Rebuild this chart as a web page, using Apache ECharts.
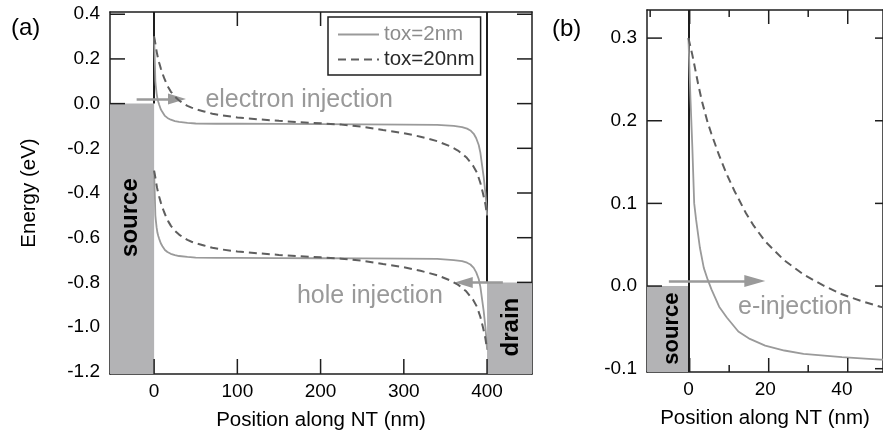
<!DOCTYPE html>
<html>
<head>
<meta charset="utf-8">
<script src="https://cdn.jsdelivr.net/npm/echarts@6/dist/echarts.min.js"></script>
<style>
  html, body { margin: 0; padding: 0; background: #fff; }
  #main { width: 883px; height: 439px; }
</style>
</head>
<body>
<div id="main"></div>
<script>
// 位置 (nm) 与能带 (eV)，tox = 2nm
var xs2 = [0, 0.5, 1, 1.5, 2, 3, 4, 5, 6, 8, 10, 13, 16, 20, 25, 30, 40, 50, 75, 100, 150, 200, 250, 300, 340, 360, 370, 376, 380, 384, 387, 390, 392, 394, 396, 398, 399, 400];
var ec2 = [0.30, 0.23, 0.17, 0.10, 0.08, 0.046, 0.022, 0.008, -0.004, -0.025, -0.038, -0.055, -0.064, -0.072, -0.078, -0.082, -0.086, -0.089, -0.09, -0.09, -0.091, -0.092, -0.093, -0.094, -0.095, -0.1, -0.105, -0.112, -0.12, -0.135, -0.155, -0.185, -0.22, -0.275, -0.33, -0.40, -0.445, -0.5];
var ev2 = [-0.30, -0.37, -0.43, -0.50, -0.52, -0.554, -0.578, -0.592, -0.604, -0.625, -0.638, -0.655, -0.664, -0.672, -0.678, -0.682, -0.686, -0.689, -0.69, -0.69, -0.691, -0.692, -0.693, -0.694, -0.695, -0.70, -0.705, -0.712, -0.72, -0.735, -0.755, -0.785, -0.82, -0.875, -0.93, -1.00, -1.045, -1.10];

// tox = 20nm
var xs20 = [0, 0.5, 1, 1.7, 2.5, 3.5, 5, 6, 8, 10, 12, 15, 17, 20, 25, 30, 35, 40, 45, 50, 60, 70, 80, 100, 125, 150, 175, 200, 225, 250, 275, 300, 320, 340, 355, 365, 375, 383, 388, 392, 395, 398, 400];
var ec20 = [0.30, 0.29, 0.28, 0.264, 0.245, 0.224, 0.198, 0.184, 0.158, 0.135, 0.115, 0.088, 0.073, 0.054, 0.031, 0.014, 0.001, -0.010, -0.018, -0.025, -0.035, -0.045, -0.052, -0.062, -0.070, -0.077, -0.083, -0.088, -0.094, -0.103, -0.118, -0.132, -0.148, -0.168, -0.19, -0.21, -0.24, -0.277, -0.31, -0.355, -0.40, -0.45, -0.50];
var ev20 = [-0.30, -0.31, -0.32, -0.336, -0.355, -0.376, -0.402, -0.416, -0.442, -0.465, -0.485, -0.512, -0.527, -0.546, -0.569, -0.586, -0.599, -0.610, -0.618, -0.625, -0.635, -0.645, -0.652, -0.662, -0.670, -0.677, -0.683, -0.688, -0.694, -0.703, -0.718, -0.732, -0.748, -0.768, -0.79, -0.81, -0.84, -0.877, -0.91, -0.955, -1.00, -1.05, -1.10];

// 刻度标签
var xTicksA = [0, 100, 200, 300, 400];
var yTicksA = [-1.2, -1.0, -0.8, -0.6, -0.4, -0.2, 0.0, 0.2, 0.4];
var xTicksB = [0, 20, 40];
var yTicksB = [-0.1, 0.0, 0.1, 0.2, 0.3];
// 可见的刻度线 (被源/漏区块和图例挡住的不画)
var xTopTicksA = [100, 200];
var yLeftTicksA = [0.0, 0.2, 0.4];
var yRightTicksA = [-0.8, -0.6, -0.4, -0.2, 0.0, 0.2, 0.4];
var xMinorB = [10, 30];
var xTopMinorB = [-10, 10, 30];
var yLeftTicksB = [0.0, 0.1, 0.2, 0.3];

// 源/漏费米能级
var sourceLevel = 0.0;
var drainLevel = -0.8;
var channelEnd = 400;

var rangeA = { xmin: -53, xmax: 454, ymin: -1.21, ymax: 0.41 };
var rangeB = { xmin: -10.8, xmax: 50.7, ymin: -0.104, ymax: 0.334 };
var gridA = { left: 110, top: 12, width: 422, height: 362 };
var gridB = { left: 647, top: 10, width: 243, height: 362 };

var FONT = '"Liberation Sans", Arial, Helvetica, sans-serif';
var SOLID = '#9a9a9a';
var DASH = '#5e5e5e';
var BOX = '#b3b3b5';
var INK = '#1e1e1e';

function pairs(xs, ys) {
    return xs.map(function (x, i) { return [x, ys[i]]; });
}
function fmt1(v) { return v.toFixed(1); }

// 朝内的刻度线: 按网格的线性比例换成像素, 用 graphic 画
var tickId = 0;
function tickLines(values, side, len, g, r) {
    return values.map(function (v) {
        var px = g.left + (v - r.xmin) / (r.xmax - r.xmin) * g.width;
        var py = g.top + (r.ymax - v) / (r.ymax - r.ymin) * g.height;
        var bottom = g.top + g.height;
        var right = g.left + g.width;
        var shape;
        if (side === 'bottom') shape = { x1: px, y1: bottom, x2: px, y2: bottom - len };
        else if (side === 'top') shape = { x1: px, y1: g.top, x2: px, y2: g.top + len };
        else if (side === 'left') shape = { x1: g.left, y1: py, x2: g.left + len, y2: py };
        else shape = { x1: right, y1: py, x2: right - len, y2: py };
        tickId += 1;
        return {
            type: 'line', id: 'tick' + tickId, silent: true, z: 30,
            shape: shape, style: { stroke: INK, lineWidth: 1.5 }
        };
    });
}

function frameAxis(gi, pos, min, max, labels, fmt) {
    return {
        type: 'value', gridIndex: gi, position: pos, min: min, max: max,
        axisLine: { show: true, onZero: false, lineStyle: { color: INK, width: 1.5 } },
        axisTick: { show: false },
        axisLabel: labels ? {
            show: true, customValues: labels, margin: pos === 'bottom' ? 8 : 10,
            fontSize: 19, color: '#000', fontFamily: FONT, formatter: fmt
        } : { show: false },
        splitLine: { show: false }
    };
}

var chartDom = document.getElementById('main');
var myChart = echarts.init(chartDom);
var option;

var nameStyle = { fontSize: 20.5, color: '#000', fontFamily: FONT };

var xA = frameAxis(0, 'bottom', rangeA.xmin, rangeA.xmax, xTicksA);
xA.name = 'Position along NT (nm)';
xA.nameLocation = 'middle';
xA.nameGap = 36;
xA.nameTextStyle = nameStyle;

var yA = frameAxis(0, 'left', rangeA.ymin, rangeA.ymax, yTicksA, fmt1);
yA.name = 'Energy (eV)';
yA.nameLocation = 'middle';
yA.nameGap = 70;
yA.nameTextStyle = nameStyle;

var xB = frameAxis(1, 'bottom', rangeB.xmin, rangeB.xmax, xTicksB);
xB.name = 'Position along NT (nm)';
xB.nameLocation = 'middle';
xB.nameGap = 36;
xB.nameTextStyle = nameStyle;

var tickGraphics = [].concat(
    tickLines(xTicksA, 'bottom', 15, gridA, rangeA),
    tickLines(xTopTicksA, 'top', 14, gridA, rangeA),
    tickLines(yLeftTicksA, 'left', 15, gridA, rangeA),
    tickLines(yRightTicksA, 'right', 15, gridA, rangeA),
    tickLines(xTicksB, 'bottom', 14, gridB, rangeB),
    tickLines(xMinorB, 'bottom', 7, gridB, rangeB),
    tickLines(xTicksB, 'top', 14, gridB, rangeB),
    tickLines(xTopMinorB, 'top', 7, gridB, rangeB),
    tickLines(yLeftTicksB, 'left', 15, gridB, rangeB),
    tickLines(yTicksB, 'right', 15, gridB, rangeB)
);

var mainSeries = [
    // 源漏区块与文字 (a)
    {
        type: 'line', xAxisIndex: 0, yAxisIndex: 0, data: [], silent: true, z: 6,
        markArea: {
            silent: true,
            itemStyle: { color: BOX },
            data: [
                [{ coord: [rangeA.xmin, rangeA.ymin] }, { coord: [0, sourceLevel] }],
                [{ coord: [channelEnd, rangeA.ymin] }, { coord: [rangeA.xmax, drainLevel] }]
            ]
        },
        markPoint: {
            silent: true,
            symbol: 'circle',
            symbolSize: 1,
            itemStyle: { color: 'rgba(0,0,0,0)' },
            label: { show: true, formatter: '{b}', fontFamily: FONT },
            data: [
                { name: 'source', coord: [-29, -0.51], label: { position: 'inside', rotate: 90, fontSize: 24, fontWeight: 'bold', color: '#000' } },
                { name: 'drain', coord: [429, -1.0], label: { position: 'inside', rotate: 90, fontSize: 24, fontWeight: 'bold', color: '#000' } },
                { name: 'electron injection', coord: [61, 0.016], label: { position: 'right', distance: 0, fontSize: 25, color: '#999' } },
                { name: 'hole injection', coord: [171, -0.86], label: { position: 'right', distance: 0, fontSize: 25, color: '#999' } }
            ]
        }
    },
    {
        type: 'line', xAxisIndex: 0, yAxisIndex: 0, data: [], silent: true, z: 7,
        markLine: {
            silent: true,
            symbol: ['none', 'none'],
            label: { show: false },
            lineStyle: { color: INK, width: 2, type: 'solid' },
            data: [
                [{ coord: [0, rangeA.ymax] }, { coord: [0, sourceLevel] }],
                [{ coord: [channelEnd, rangeA.ymax] }, { coord: [channelEnd, drainLevel] }]
            ]
        }
    },
    {
        type: 'line', xAxisIndex: 0, yAxisIndex: 0, data: [], silent: true, z: 8,
        markLine: {
            silent: true,
            label: { show: false },
            lineStyle: { color: '#9a9a9a', width: 2.5, type: 'solid' },
            data: [
                [{ coord: [-21, 0.0205], symbol: 'none' }, { coord: [27.5, 0.0205], symbol: 'triangle', symbolSize: [11, 18] }],
                [{ coord: [419, -0.8], symbol: 'none' }, { coord: [372, -0.8], symbol: 'triangle', symbolSize: [11, 18] }]
            ]
        }
    },
    // 能带曲线 (a)
    {
        name: 'tox=2nm', type: 'line', xAxisIndex: 0, yAxisIndex: 0, symbol: 'none', z: 7,
        data: pairs(xs2, ec2), lineStyle: { color: SOLID, width: 1.8 }, itemStyle: { color: SOLID }
    },
    {
        name: 'tox=2nm', type: 'line', xAxisIndex: 0, yAxisIndex: 0, symbol: 'none', z: 7,
        data: pairs(xs2, ev2), lineStyle: { color: SOLID, width: 1.8 }, itemStyle: { color: SOLID }
    },
    {
        name: 'tox=20nm', type: 'line', xAxisIndex: 0, yAxisIndex: 0, symbol: 'none', z: 7,
        data: pairs(xs20, ec20), lineStyle: { color: DASH, width: 2, type: [8, 5] }, itemStyle: { color: DASH }
    },
    {
        name: 'tox=20nm', type: 'line', xAxisIndex: 0, yAxisIndex: 0, symbol: 'none', z: 7,
        data: pairs(xs20, ev20), lineStyle: { color: DASH, width: 2, type: [8, 5] }, itemStyle: { color: DASH }
    },
    // (b) 源区放大
    {
        type: 'line', xAxisIndex: 2, yAxisIndex: 2, data: [], silent: true, z: 6,
        markArea: {
            silent: true,
            itemStyle: { color: BOX },
            data: [
                [{ coord: [rangeB.xmin, rangeB.ymin] }, { coord: [0, sourceLevel] }]
            ]
        },
        markPoint: {
            silent: true,
            symbol: 'circle',
            symbolSize: 1,
            itemStyle: { color: 'rgba(0,0,0,0)' },
            label: { show: true, formatter: '{b}', fontFamily: FONT },
            data: [
                { name: 'source', coord: [-4.2, -0.0515], label: { position: 'inside', rotate: 90, fontSize: 22, fontWeight: 'bold', color: '#000' } },
                { name: 'e-injection', coord: [12.8, -0.025], label: { position: 'right', distance: 0, fontSize: 25, color: '#999' } }
            ]
        }
    },
    {
        type: 'line', xAxisIndex: 2, yAxisIndex: 2, data: [], silent: true, z: 7,
        markLine: {
            silent: true,
            symbol: ['none', 'none'],
            label: { show: false },
            lineStyle: { color: INK, width: 2, type: 'solid' },
            data: [
                [{ coord: [0, rangeB.ymax] }, { coord: [0, rangeB.ymin] }]
            ]
        }
    },
    {
        type: 'line', xAxisIndex: 2, yAxisIndex: 2, data: [], silent: true, z: 8,
        markLine: {
            silent: true,
            label: { show: false },
            lineStyle: { color: '#9a9a9a', width: 2.5, type: 'solid' },
            data: [
                [{ coord: [-5.1, 0.006], symbol: 'none' }, { coord: [17.3, 0.006], symbol: 'triangle', symbolSize: [12, 21] }]
            ]
        }
    },
    {
        name: 'tox=2nm', type: 'line', xAxisIndex: 2, yAxisIndex: 2, symbol: 'none', z: 7,
        data: pairs(xs2, ec2), lineStyle: { color: SOLID, width: 1.8 }, itemStyle: { color: SOLID }
    },
    {
        name: 'tox=20nm', type: 'line', xAxisIndex: 2, yAxisIndex: 2, symbol: 'none', z: 7,
        data: pairs(xs20, ec20), lineStyle: { color: DASH, width: 2, type: [8, 5] }, itemStyle: { color: DASH }
    }
];

option = {
    animation: false,
    backgroundColor: '#fff',
    textStyle: { fontFamily: FONT },
    grid: [gridA, gridB],
    legend: {
        data: [
            { name: 'tox=2nm', textStyle: { color: '#8c8c8c' } },
            { name: 'tox=20nm', textStyle: { color: '#2a2a2a' } }
        ],
        orient: 'vertical',
        left: 328,
        top: 17,
        z: 40,
        itemWidth: 41,
        itemHeight: 12,
        itemGap: 4,
        padding: [7, 6, 5, 9],
        itemStyle: { opacity: 0 },
        backgroundColor: '#fff',
        borderColor: INK,
        borderWidth: 1.5,
        textStyle: { fontSize: 20.5, fontFamily: FONT }
    },
    xAxis: [
        xA,
        frameAxis(0, 'top', rangeA.xmin, rangeA.xmax),
        xB,
        frameAxis(1, 'top', rangeB.xmin, rangeB.xmax)
    ],
    yAxis: [
        yA,
        frameAxis(0, 'right', rangeA.ymin, rangeA.ymax),
        frameAxis(1, 'left', rangeB.ymin, rangeB.ymax, yTicksB, fmt1),
        frameAxis(1, 'right', rangeB.ymin, rangeB.ymax)
    ],
    graphic: [
        { type: 'text', id: 'tagA', left: 11, top: 16, style: { text: '(a)', fontSize: 24, fill: '#000', fontFamily: FONT } },
        { type: 'text', id: 'tagB', left: 552, top: 17, style: { text: '(b)', fontSize: 24, fill: '#000', fontFamily: FONT } }
    ].concat(tickGraphics),
    series: mainSeries
};

option && myChart.setOption(option);
</script>
</body>
</html>
